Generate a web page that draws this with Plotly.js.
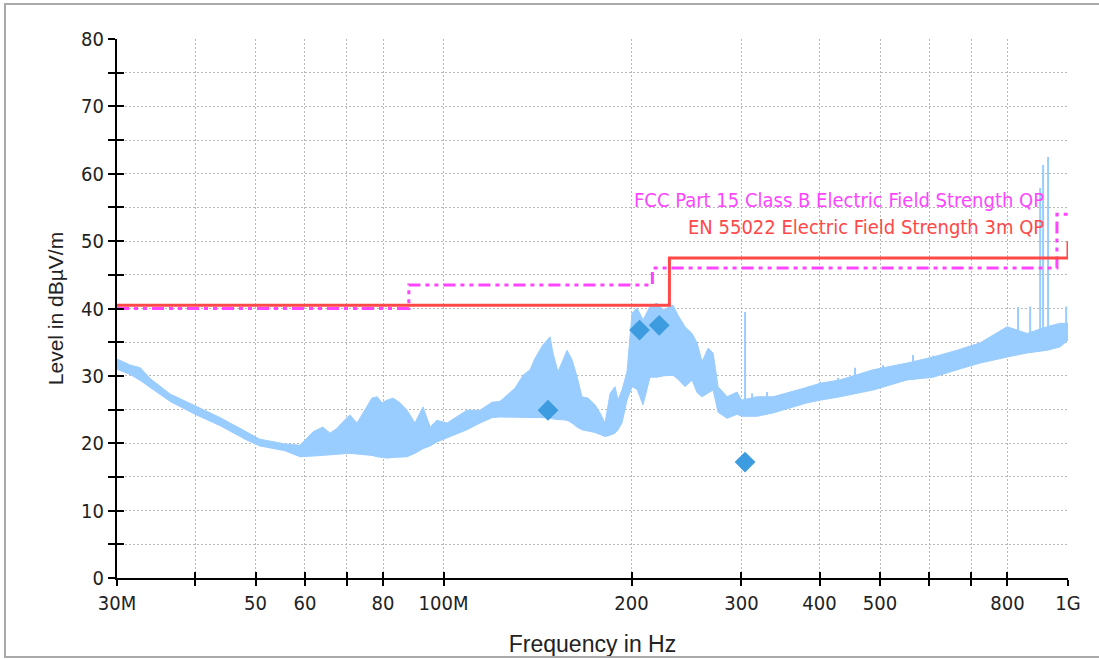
<!DOCTYPE html>
<html><head><meta charset="utf-8">
<script src="https://cdn.plot.ly/plotly-3.0.1.min.js"></script>
<style>
html,body{margin:0;padding:0;background:#fff;overflow:hidden}
#chart{position:absolute;left:0;top:0;width:1099px;height:659px}
#frame{position:absolute;left:4px;top:3px;width:1200px;height:655px;box-sizing:border-box;border:2px solid #a9a9a9;pointer-events:none}
</style></head><body>
<div id="chart"></div><div id="frame"></div>
<script>
// Spectrum (peak detector) envelope, frequency in MHz, level in dBµV/m
const freqMHz = [30.0, 31.5, 32.7, 33.9, 36.5, 40.0, 43.9, 48.1, 50.8, 55.7, 58.9, 61.8, 64.1, 65.8, 67.5, 69.0, 70.8, 72.7, 74.3, 76.8, 78.3, 79.7, 81.2, 83.0, 85.2, 87.4, 90.0, 92.7, 95.2, 97.6, 101.3, 105.1, 109.0, 114.4, 119.6, 123.1, 126.4, 130.2, 134.1, 137.6, 140.1, 144.3, 148.1, 149.7, 152.5, 154.8, 157.7, 160.6, 163.6, 166.6, 170.4, 174.8, 178.1, 181.4, 184.8, 188.2, 190.3, 193.1, 196.7, 200.4, 204.1, 208.7, 214.1, 219.7, 224.7, 233.1, 237.4, 243.6, 250.0, 254.7, 259.4, 265.2, 270.2, 275.2, 284.5, 295.2, 300.0, 317.8, 337.1, 382.2, 400.9, 431.6, 487.4, 552.5, 608.1, 664.4, 723.3, 798.9, 859.8, 925.8, 971.1, 1000];
const levelLow = [31.0, 30.2, 29.3, 28.3, 26.2, 24.3, 22.6, 20.6, 19.6, 18.9, 18.0, 18.1, 18.2, 18.3, 18.4, 18.5, 18.5, 18.4, 18.3, 18.2, 18.0, 17.9, 17.8, 17.9, 18.0, 18.0, 18.5, 19.2, 19.6, 20.2, 20.8, 21.4, 22.0, 23.0, 23.8, 23.9, 23.9, 23.9, 23.9, 23.9, 23.8, 23.8, 23.7, 23.6, 23.5, 23.5, 23.4, 23.0, 22.4, 22.0, 21.8, 21.6, 21.3, 21.0, 21.2, 21.5, 22.0, 23.0, 26.4, 28.4, 28.0, 25.7, 29.8, 29.8, 30.0, 30.1, 29.5, 28.4, 29.4, 27.5, 26.9, 27.5, 27.9, 24.6, 23.7, 24.3, 24.0, 24.0, 24.5, 26.0, 26.4, 26.9, 27.9, 29.4, 29.8, 30.9, 31.9, 32.8, 33.4, 33.8, 34.3, 35.3];
const levelHigh = [32.5, 31.6, 31.2, 29.6, 27.3, 25.6, 23.8, 21.8, 20.6, 19.9, 19.7, 21.7, 22.4, 21.5, 22.2, 23.2, 24.2, 23.0, 24.4, 26.7, 26.9, 26.0, 26.4, 26.7, 26.0, 24.9, 23.0, 25.4, 22.4, 23.4, 23.0, 23.9, 24.9, 24.9, 26.1, 26.2, 27.2, 28.2, 30.1, 30.9, 32.6, 34.6, 35.8, 33.4, 30.6, 32.1, 33.8, 32.4, 29.9, 26.9, 26.7, 25.7, 24.5, 23.0, 27.4, 28.4, 26.4, 27.9, 30.6, 39.3, 40.1, 38.3, 40.3, 40.8, 39.8, 40.5, 39.0, 37.3, 36.3, 34.9, 32.1, 34.1, 33.4, 28.4, 26.9, 27.6, 26.4, 26.9, 26.9, 28.3, 28.9, 29.4, 30.9, 31.9, 32.8, 33.8, 34.9, 37.3, 36.3, 37.3, 37.8, 37.8];
// Narrow single-frequency spikes
const spikeMHz = [304.0, 312.0, 329.7, 369.7, 383.6, 400.9, 428.3, 456.0, 505.6, 528.5, 564.8, 608.1, 696.8, 755.9, 787.2, 831.8, 869.8, 902.4, 912.3, 929.2, 993.3];
const spikeBase = [25.5, 25.5, 26.0, 26.8, 27.2, 27.6, 28.0, 28.5, 29.5, 29.8, 30.5, 31.0, 32.5, 33.5, 34.0, 35.0, 35.5, 35.5, 35.5, 35.5, 36.5];
const spikeTop = [39.5, 27.4, 27.6, 27.9, 28.4, 29.1, 29.7, 31.2, 31.6, 31.6, 33.1, 33.0, 34.3, 35.3, 36.3, 40.2, 40.3, 57.9, 61.3, 62.5, 40.3];
// Limit lines
const enFreq = [30, 230, 230, 1000, 1000];
const enLimit = [40.5, 40.5, 47.5, 47.5, 50];
const fccFreq = [30, 88, 88, 216, 216, 960, 960, 1000];
const fccLimit = [40, 40, 43.5, 43.5, 46, 46, 54, 54];
// Final QP measurements
const finalFreq = [147, 206, 221.5, 304];
const finalLevel = [24.9, 36.8, 37.5, 17.2];
// Axis ticks
const xTickVals = [30, 40, 50, 60, 70, 80, 100, 200, 300, 400, 500, 600, 700, 800, 1000];
const xTickText = ['30M', '', '50', '60', '', '80', '100M', '200', '300', '400', '500', '', '', '800', '1G'];
const yTickVals = [0, 5, 10, 15, 20, 25, 30, 35, 40, 45, 50, 55, 60, 65, 70, 75, 80];
const yTickText = ['0', '', '10', '', '20', '', '30', '', '40', '', '50', '', '60', '', '70', '', '80'];

const NARROW = "'Liberation Sans Narrow', 'DejaVu Sans Condensed', 'Liberation Sans', Arial, sans-serif";
const SPEC = '#99ccff';

const spikeX = [], spikeY = [];
spikeMHz.forEach((f, i) => { spikeX.push(f, f, null); spikeY.push(spikeBase[i], spikeTop[i], null); });

const traces = [
  {x: freqMHz, y: levelLow, mode: 'lines', line: {color: SPEC, width: 1}, hoverinfo: 'skip', showlegend: false},
  {x: freqMHz, y: levelHigh, mode: 'lines', fill: 'tonexty', fillcolor: SPEC, line: {color: SPEC, width: 1}, showlegend: false},
  {x: spikeX, y: spikeY, mode: 'lines', line: {color: SPEC, width: 2}, showlegend: false, connectgaps: false},
  {x: fccFreq, y: fccLimit, mode: 'lines', line: {color: '#ff44ff', width: 3, dash: '12px,5px,4px,5px,4px,5px'}, showlegend: false},
  {x: enFreq, y: enLimit, mode: 'lines', line: {color: '#ff4848', width: 3}, showlegend: false},
  {x: finalFreq, y: finalLevel, mode: 'markers', marker: {symbol: 'diamond', size: 16, color: '#3d9be0'}, showlegend: false},
  {x: [], y: [], xaxis: 'x2', yaxis: 'y2', mode: 'markers', showlegend: false, hoverinfo: 'skip'}
];

const xr = [Math.log10(30), 3];
const layout = {
  width: 1099, height: 659,
  margin: {l: 117, r: 31, t: 39, b: 81},
  paper_bgcolor: '#fff', plot_bgcolor: '#fff',
  showlegend: false,
  font: {family: NARROW, color: '#222'},
  xaxis: {
    type: 'log', range: xr, tickvals: xTickVals, ticktext: xTickText,
    ticks: 'outside', ticklen: 6, tickwidth: 2, tickcolor: '#000',
    showline: true, linecolor: '#000', linewidth: 2, zeroline: false,
    showgrid: true, gridcolor: '#b8b8b8', gridwidth: 1, griddash: '2px,2px',
    tickfont: {family: NARROW, size: 20, color: '#222'},
    title: {text: 'Frequency in Hz', font: {family: "'Liberation Sans', Arial, sans-serif", size: 23, color: '#222'}, standoff: 22}
  },
  yaxis: {
    range: [0, 80], tickvals: yTickVals, ticktext: yTickText,
    ticks: 'outside', ticklen: 7, tickwidth: 2, tickcolor: '#000',
    showline: true, linecolor: '#000', linewidth: 2, zeroline: false,
    showgrid: true, gridcolor: '#b8b8b8', gridwidth: 1, griddash: '2px,2px',
    tickfont: {family: NARROW, size: 20, color: '#222'},
    title: {text: 'Level in dBµV/m', font: {family: "'Liberation Sans', Arial, sans-serif", size: 21, color: '#222'}, standoff: 12}
  },
  xaxis2: {type: 'log', range: xr, overlaying: 'x', anchor: 'y2', tickvals: xTickVals, showticklabels: false,
    ticks: 'inside', ticklen: 6, tickwidth: 2, tickcolor: '#000', showgrid: false, showline: false, zeroline: false},
  yaxis2: {range: [0, 80], overlaying: 'y', anchor: 'x2', tickvals: yTickVals, showticklabels: false,
    ticks: 'inside', ticklen: 7, tickwidth: 2, tickcolor: '#000', showgrid: false, showline: false, zeroline: false},
  annotations: [
    {xref: 'paper', yref: 'paper', x: 0.977, y: 0.7013, xanchor: 'right', yanchor: 'middle', showarrow: false,
     text: 'FCC Part 15 Class B Electric Field Strength QP', font: {family: NARROW, size: 20, color: '#ff44ff'}},
    {xref: 'paper', yref: 'paper', x: 0.977, y: 0.6512, xanchor: 'right', yanchor: 'middle', showarrow: false,
     text: 'EN 55022 Electric Field Strength 3m QP', font: {family: NARROW, size: 20, color: '#ff4848'}}
  ]
};

Plotly.newPlot('chart', traces, layout, {staticPlot: true, displayModeBar: false});
</script>
</body></html>
